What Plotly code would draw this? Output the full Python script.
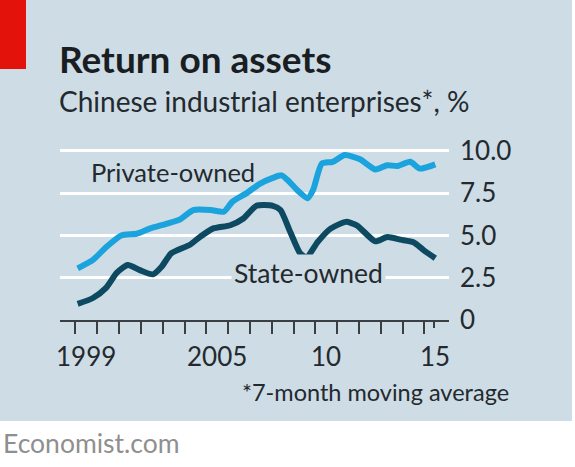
import plotly.graph_objects as go

# Return on assets, Chinese industrial enterprises, % (7-month moving average)
private_years = [1999.1, 1999.8, 2000.4, 2001.1, 2001.8, 2002.4, 2003.2, 2003.8, 2004.4, 2005.2,
                 2005.8, 2006.2, 2006.85, 2007.45, 2008.05, 2008.45, 2008.75, 2009.15, 2009.65, 2009.9,
                 2010.3, 2010.8, 2011.35, 2012.05, 2012.75, 2013.3, 2013.75, 2014.35, 2014.8, 2015.5]
private_roa = [3.05, 3.55, 4.3, 5.0, 5.1, 5.4, 5.7, 5.95, 6.5, 6.5,
               6.4, 7.0, 7.5, 8.05, 8.4, 8.55, 8.25, 7.7, 7.2, 7.7,
               9.25, 9.35, 9.75, 9.5, 8.9, 9.15, 9.1, 9.35, 8.95, 9.2]

state_years = [1999.1, 1999.8, 2000.4, 2000.9, 2001.4, 2001.95, 2002.55, 2002.95, 2003.4, 2004.25,
               2004.7, 2005.3, 2006.1, 2006.7, 2007.3, 2008.05, 2008.4, 2008.85, 2009.3, 2009.6,
               2010.1, 2010.7, 2011.4, 2011.9, 2012.75, 2013.3, 2013.9, 2014.5, 2014.95, 2015.5]
state_roa = [0.95, 1.3, 1.9, 2.8, 3.25, 2.95, 2.7, 3.15, 3.95, 4.45,
             4.9, 5.4, 5.6, 6.0, 6.75, 6.75, 6.5, 5.2, 3.95, 3.7,
             4.6, 5.4, 5.8, 5.6, 4.65, 4.9, 4.75, 4.6, 4.15, 3.65]

year_ticks = list(range(1999, 2016))
year_label_vals = [1999, 2005, 2010, 2015]
year_label_text = ["1999", "2005", "10", "15"]
y_ticks = [0, 2.5, 5, 7.5, 10]
y_tick_text = ["0", "2.5", "5.0", "7.5", "10.0"]

BG = "#cddce5"
PRIVATE = "#1aa3dc"
STATE = "#0d4a62"
TEXT = "#24292e"
FONT = "Lato"

W, H = 575, 467
L, R, T, B = 60, 449, 140, 320  # plot area in pixels


def px_x(p):
    return (p - L) / (R - L)


def px_y(p):
    return (B - p) / (B - T)


fig = go.Figure()
fig.add_trace(go.Scatter(x=private_years, y=private_roa, mode="lines",
                         line=dict(color=PRIVATE, width=6, shape="spline", smoothing=0.6),
                         hoverinfo="skip"))
fig.add_trace(go.Scatter(x=state_years, y=state_roa, mode="lines",
                         line=dict(color=STATE, width=6, shape="spline", smoothing=0.6),
                         hoverinfo="skip"))

shapes = [
    # white strip below and to the right of the panel
    dict(type="rect", xref="paper", yref="paper", x0=px_x(-5), x1=px_x(W + 5),
         y0=px_y(421), y1=px_y(H + 5), fillcolor="white", line_width=0, layer="below"),
    dict(type="rect", xref="paper", yref="paper", x0=px_x(572), x1=px_x(W + 5),
         y0=px_y(-5), y1=px_y(H + 5), fillcolor="white", line_width=0, layer="below"),
    # red tag
    dict(type="rect", xref="paper", yref="paper", x0=px_x(-5), x1=px_x(26),
         y0=px_y(69), y1=px_y(-5), fillcolor="#e3120b", line_width=0, layer="above"),
]

annotations = [
    dict(text="<b>Return on assets</b>", x=px_x(57), y=px_y(58), xanchor="left", yanchor="middle",
         font=dict(family=FONT, size=37, color="#1a1e22")),
    dict(text="Chinese industrial enterprises*, %", x=px_x(57), y=px_y(101), xanchor="left",
         yanchor="middle", font=dict(family=FONT, size=28, color=TEXT)),
    dict(text="Private-owned", x=px_x(89), y=px_y(172), xanchor="left", yanchor="middle",
         font=dict(family=FONT, size=25.5, color=TEXT)),
    dict(text="State-owned", x=px_x(231), y=px_y(273), xanchor="left", yanchor="middle",
         bgcolor=BG, borderpad=2, font=dict(family=FONT, size=26.5, color=TEXT)),
    dict(text="*7-month moving average", x=px_x(511), y=px_y(392), xanchor="right",
         yanchor="middle", font=dict(family=FONT, size=23.5, color=TEXT)),
    dict(text="Economist.com", x=px_x(1), y=px_y(443), xanchor="left", yanchor="middle",
         font=dict(family=FONT, size=26.5, color="#8f8f8f")),
]
for v, t in zip(year_label_vals, year_label_text):
    annotations.append(dict(text=t, x=v + 0.5, xref="x", y=px_y(356), yref="paper",
                            xanchor="center", yanchor="middle",
                            font=dict(family=FONT, size=26, color=TEXT)))
for a in annotations:
    a.setdefault("xref", "paper")
    a.setdefault("yref", "paper")
    a["showarrow"] = False

fig.update_layout(
    width=W, height=H,
    margin=dict(l=L, r=W - R, t=T, b=H - B, pad=0),
    paper_bgcolor=BG, plot_bgcolor=BG,
    showlegend=False,
    shapes=shapes,
    annotations=annotations,
    xaxis=dict(range=[1998.29, 2016.13], tickvals=year_ticks, showticklabels=False,
               ticks="outside", ticklen=12, tickwidth=2, tickcolor="#3a3f44",
               minor=dict(tickvals=[2015.42], ticks="outside", ticklen=6, tickwidth=2,
                          tickcolor="#3a3f44", showgrid=False),
               showline=True, linecolor="#3a3f44", linewidth=2, showgrid=False,
               zeroline=False, fixedrange=True),
    yaxis=dict(range=[0, 10.64], side="right", tickvals=y_ticks, ticktext=y_tick_text,
               ticks="", ticklabelstandoff=10, showgrid=True, gridcolor="white", gridwidth=3,
               zeroline=False, showline=False,
               tickfont=dict(family=FONT, size=26, color=TEXT), fixedrange=True),
)

# drop the default page margin so the chart sits at the window's top-left corner
fig.write_html("out.html", config={"displayModeBar": False},
               post_script="document.body.style.margin='0';")
